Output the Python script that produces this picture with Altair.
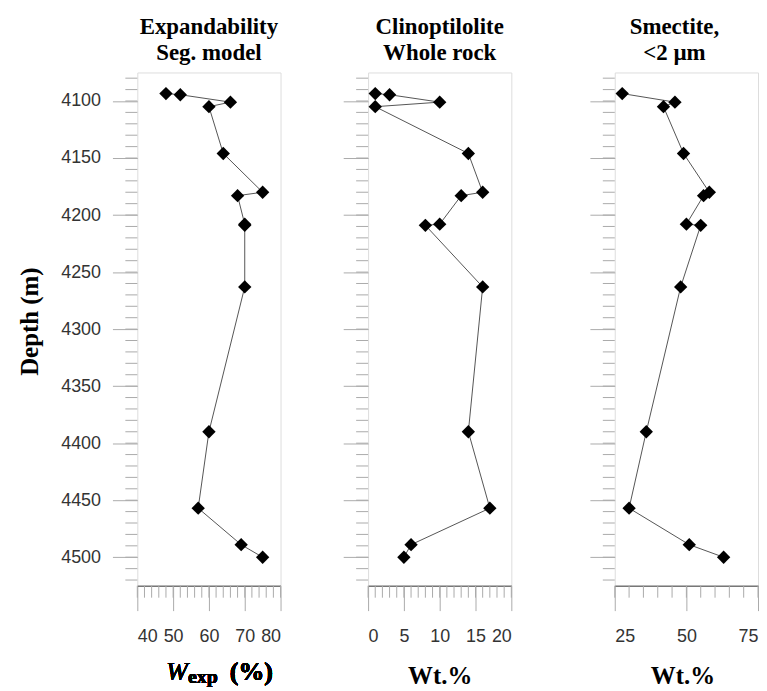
import altair as alt
import pandas as pd

# ---- data ----
depth_exp = [4093.5, 4094.5, 4101, 4105, 4146, 4180, 4183, 4208, 4209, 4263, 4390, 4457, 4489, 4500]
w_exp = [48, 52, 66, 60, 64, 75, 68, 70, 70, 70, 60, 57, 69, 75]

depth_clin = [4093.5, 4094.5, 4101, 4105, 4146, 4180, 4183, 4208, 4209, 4263, 4390, 4457, 4489, 4500]
clin = [1, 3, 10, 1, 14, 16, 13, 10, 8, 16, 14, 17, 6, 5]

depth_sme = [4093.5, 4101, 4105, 4146, 4180, 4183, 4208, 4209, 4263, 4390, 4457, 4489, 4500]
sme = [27.6, 46, 42, 49, 58, 56, 50, 55, 48, 36, 30, 51, 63]

y_domain = [4075, 4525]
y_major = [4100, 4150, 4200, 4250, 4300, 4350, 4400, 4450, 4500]
y_minor = list(range(4080, 4530, 10))

x1_domain, x1_major, x1_minor = [40, 80], [40, 50, 60, 70, 80], list(range(40, 81, 2))
x2_domain, x2_major, x2_minor = [0, 20], [0, 5, 10, 15, 20], list(range(0, 21, 1))
x3_domain, x3_major, x3_minor = [25, 75], [25, 50, 75], list(range(25, 76, 5))

W, H = 144, 516
SERIF = "Liberation Serif"
SANS = "Liberation Sans"
TICK = "#aaaaaa"


def panel(depths, vals, xdom, xmajor, xminor, title, xtitle, first, title_dx=0, xtitle_x=None):
    df = pd.DataFrame({"depth": depths, "val": vals, "idx": list(range(len(vals)))})
    xs = alt.Scale(domain=xdom, nice=False, zero=False)
    ys = alt.Scale(domain=y_domain, nice=False, zero=False, reverse=True)
    xaxis_kw = dict(values=xmajor, format="d", tickSize=25, tickColor=TICK, tickWidth=1,
                    labelFont=SANS, labelFontSize=18, labelColor="#333",
                    labelPadding=17, grid=False, domainColor="#777", domainWidth=1.5,
                    titleFont=SERIF, titleFontSize=25, titleFontWeight="bold",
                    titleColor="black", titlePadding=18)
    if xtitle_x is not None:
        xaxis_kw["titleX"] = xtitle_x
    xaxis = alt.Axis(**xaxis_kw)
    if first:
        yaxis = alt.Axis(values=y_major, format="d", tickSize=25, tickColor=TICK, tickWidth=1,
                         labelFont=SANS, labelFontSize=18, labelColor="#333",
                         labelPadding=12, grid=False, domain=False,
                         titleFont=SERIF, titleFontSize=25, titleFontWeight="bold",
                         titleColor="black", titlePadding=18, titleY=H / 2 - 8)
        ytitle = "Depth (m)"
    else:
        yaxis = alt.Axis(values=y_major, tickSize=25, tickColor=TICK, tickWidth=1,
                         labels=False, grid=False, domain=False)
        ytitle = None
    xt = xtitle if xtitle else None

    X = alt.X("val:Q", scale=xs, axis=xaxis, title=xt)
    Y = alt.Y("depth:Q", scale=ys, axis=yaxis, title=ytitle)

    line = alt.Chart(df).mark_line(color="#555", strokeWidth=1).encode(x=X, y=Y, order="idx:Q")
    pts = alt.Chart(df).mark_point(shape="diamond", filled=True, size=180,
                                   color="black", opacity=1).encode(x=X, y=Y)

    ymin_df = pd.DataFrame({"depth": y_minor})
    yminor = alt.Chart(ymin_df).mark_rule(color=TICK, strokeWidth=1).encode(
        y=Y, x=alt.value(-12), x2=alt.value(0))
    xmin_df = pd.DataFrame({"val": xminor})
    xminor_l = alt.Chart(xmin_df).mark_rule(color=TICK, strokeWidth=1).encode(
        x=X, y=alt.value(H), y2=alt.value(H + 12))

    layers = [yminor, xminor_l, line, pts]
    if not xtitle:
        t1 = alt.Chart(df).mark_text(text="W", font=SERIF, fontSize=26, fontStyle="italic",
                                     align="left", baseline="alphabetic", color="black").encode(
            x=alt.value(29), y=alt.value(611))
        t2 = alt.Chart(df).mark_text(text="exp", font=SERIF, fontSize=20, fontWeight="bold",
                                     align="left", baseline="alphabetic", color="black").encode(
            x=alt.value(51), y=alt.value(614))
        t3 = alt.Chart(df).mark_text(text="(%)", font=SERIF, fontSize=26, fontWeight="bold",
                                     align="left", baseline="alphabetic", color="black").encode(
            x=alt.value(93), y=alt.value(611))
        layers += [t1, t2, t3]

    return alt.layer(*layers).properties(
        width=W, height=H,
        title=alt.TitleParams(text=title, font=SERIF, fontSize=23, fontWeight="bold",
                              color="black", lineHeight=26, offset=8, anchor="middle",
                              dx=title_dx))


p1 = panel(depth_exp, w_exp, x1_domain, x1_major, x1_minor,
           ["Expandability", "Seg. model"], None, True)
p2 = panel(depth_clin, clin, x2_domain, x2_major, x2_minor,
           ["Clinoptilolite", "Whole rock"], "Wt.%", False)
p3 = panel(depth_sme, sme, x3_domain, x3_major, x3_minor,
           ["Smectite,", "<2 \u00b5m"], "Wt.%", False, title_dx=-12, xtitle_x=W / 2 - 4)

inner = alt.hconcat(p1, p2, spacing=61)
chart = alt.hconcat(inner, p3, spacing=77).properties(
    padding={"left": 9, "top": 5, "right": 0, "bottom": 0}
).configure_view(stroke="#999999", strokeWidth=1.5).configure(background="white")

chart.save("out.html", embed_options={"renderer": "svg", "actions": False})
